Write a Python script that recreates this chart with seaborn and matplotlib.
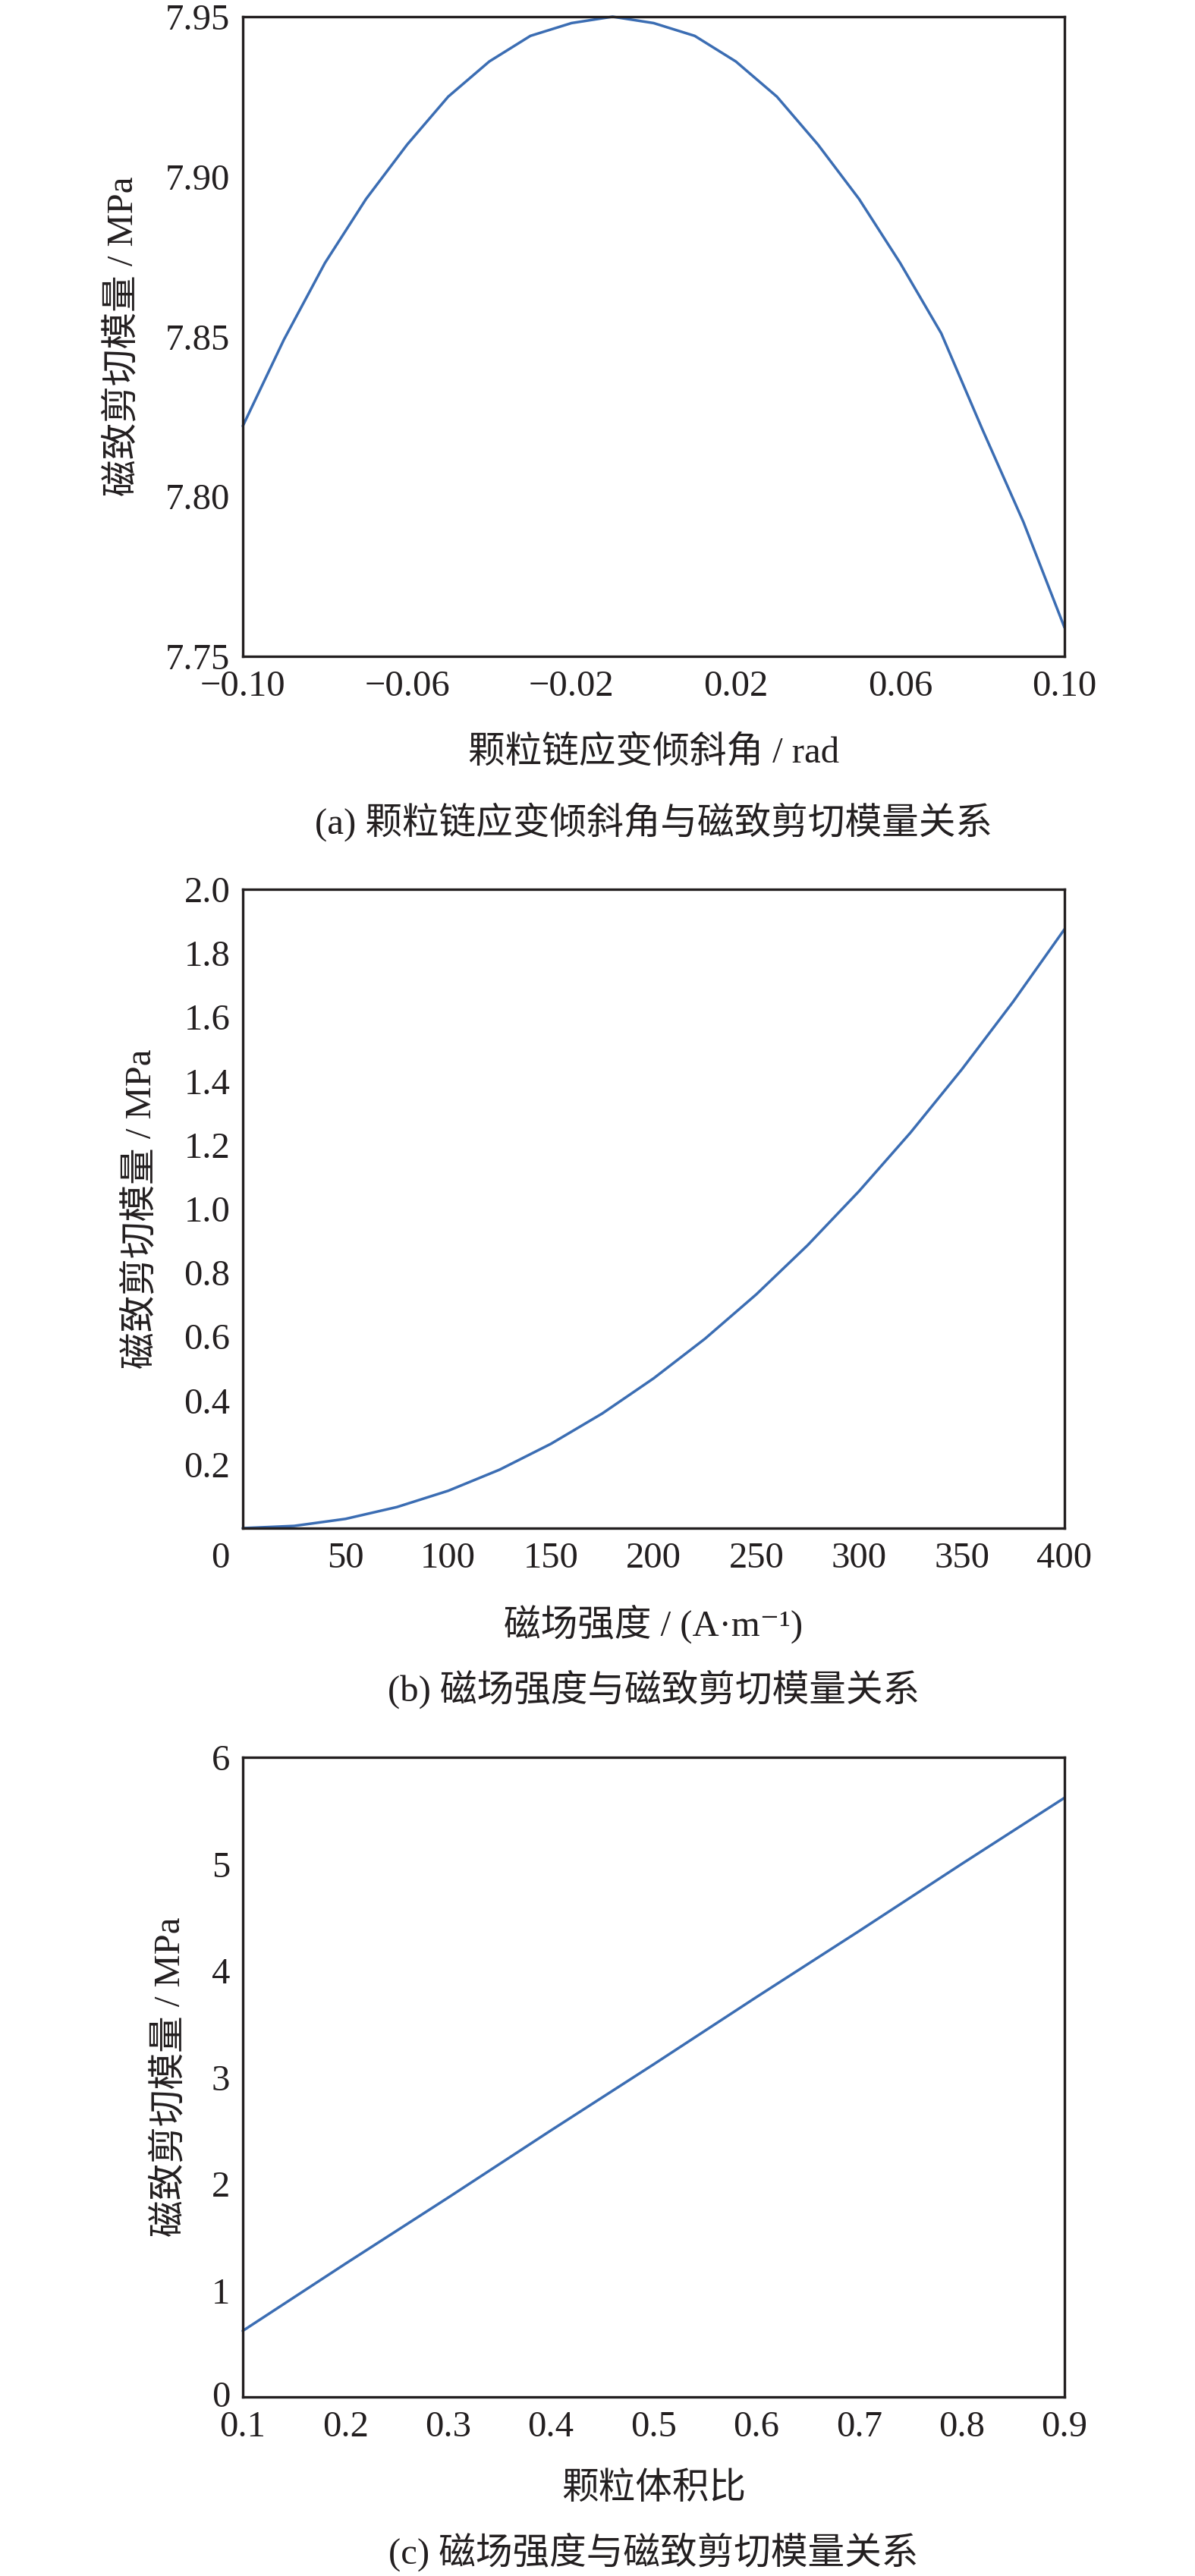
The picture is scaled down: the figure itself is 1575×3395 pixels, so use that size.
import matplotlib
matplotlib.use("Agg")
import matplotlib.pyplot as plt
import matplotlib.transforms as mtransforms
import seaborn as sns
import pandas as pd

# ---------------- data ----------------
# (a) particle-chain strain tilt angle vs magnetostrictive shear modulus
angle_rad = [-0.10, -0.09, -0.08, -0.07, -0.06, -0.05, -0.04, -0.03, -0.02, -0.01,
             0.00, 0.01, 0.02, 0.03, 0.04, 0.05, 0.06, 0.07, 0.08, 0.09, 0.10]
shear_a = [7.822, 7.849, 7.873, 7.893, 7.910, 7.925, 7.936, 7.944, 7.948, 7.950,
           7.948, 7.944, 7.936, 7.925, 7.910, 7.893, 7.873, 7.851, 7.821, 7.792, 7.759]

# (b) magnetic field strength vs magnetostrictive shear modulus
field_H = [0, 25, 50, 75, 100, 125, 150, 175, 200, 225, 250, 275, 300, 325, 350, 375, 400]
shear_b = [0.0, 0.007, 0.029, 0.066, 0.117, 0.183, 0.264, 0.359, 0.469, 0.593,
           0.732, 0.886, 1.055, 1.238, 1.436, 1.648, 1.875]

# (c) particle volume fraction vs magnetostrictive shear modulus
vol_frac = [0.1, 0.2, 0.3, 0.4, 0.5, 0.6, 0.7, 0.8, 0.9]
shear_c = [0.62, 1.25, 1.87, 2.50, 3.12, 3.75, 4.37, 5.00, 5.62]

a_xticks = [-0.10, -0.06, -0.02, 0.02, 0.06, 0.10]
a_xticklabels = ["\u22120.10", "\u22120.06", "\u22120.02", "0.02", "0.06", "0.10"]
a_yticks = [7.75, 7.80, 7.85, 7.90, 7.95]
a_yticklabels = ["7.75", "7.80", "7.85", "7.90", "7.95"]

b_xticks = [0, 50, 100, 150, 200, 250, 300, 350, 400]
b_xticklabels = ["0", "50", "100", "150", "200", "250", "300", "350", "400"]
b_yticks = [0.2, 0.4, 0.6, 0.8, 1.0, 1.2, 1.4, 1.6, 1.8, 2.0]
b_yticklabels = ["0.2", "0.4", "0.6", "0.8", "1.0", "1.2", "1.4", "1.6", "1.8", "2.0"]

c_xticks = [0.1, 0.2, 0.3, 0.4, 0.5, 0.6, 0.7, 0.8, 0.9]
c_xticklabels = ["0.1", "0.2", "0.3", "0.4", "0.5", "0.6", "0.7", "0.8", "0.9"]
c_yticks = [0, 1, 2, 3, 4, 5, 6]
c_yticklabels = ["0", "1", "2", "3", "4", "5", "6"]

ylabel_text = "磁致剪切模量 / MPa"
xlabel_a = "颗粒链应变倾斜角 / rad"
xlabel_b = "磁场强度 / (A·m\u207b\u00b9)"
xlabel_c = "颗粒体积比"
caption_a = "(a) 颗粒链应变倾斜角与磁致剪切模量关系"
caption_b = "(b) 磁场强度与磁致剪切模量关系"
caption_c = "(c) 磁场强度与磁致剪切模量关系"

# ---------------- style ----------------
sns.set_theme(style="white")
plt.rcParams["font.family"] = ["Liberation Serif", "Noto Sans CJK SC", "DejaVu Serif", "DejaVu Sans"]
plt.rcParams["axes.unicode_minus"] = True

FS = 35
LINE_COLOR = "#3b6db3"
SPINE_COLOR = "#231f20"
TEXT_COLOR = "#231f20"
W, H = 1575, 3395
DPI = 100

fig = plt.figure(figsize=(W / DPI, H / DPI), dpi=DPI)
fig.patch.set_facecolor("white")

left = 320 / W
width = (1403 - 320) / W


def make_axes(top_px, bottom_px):
    return fig.add_axes([left, 1 - bottom_px / H, width, (bottom_px - top_px) / H])


ax_a = make_axes(22, 865)
ax_b = make_axes(1172, 2014)
ax_c = make_axes(2316, 3159)

df_a = pd.DataFrame({"x": angle_rad, "y": shear_a})
df_b = pd.DataFrame({"x": field_H, "y": shear_b})
df_c = pd.DataFrame({"x": vol_frac, "y": shear_c})

panels = [
    (ax_a, df_a, (-0.10, 0.10), (7.75, 7.95), a_xticks, a_xticklabels, a_yticks, a_yticklabels,
     xlabel_a, 992, 162, caption_a, 1083),
    (ax_b, df_b, (0, 400), (0, 2.0), b_xticks, b_xticklabels, b_yticks, b_yticklabels,
     xlabel_b, 2140, 186, caption_b, 2226),
    (ax_c, df_c, (0.1, 0.9), (0, 6), c_xticks, c_xticklabels, c_yticks, c_yticklabels,
     xlabel_c, 3280, 224, caption_c, 3363),
]

for (ax, df, xl, yl, xt, xtl, yt, ytl, xlab, xlab_y, ylab_x, cap, cap_y) in panels:
    sns.lineplot(data=df, x="x", y="y", ax=ax, color=LINE_COLOR, linewidth=2.5,
                 clip_on=False, zorder=3)
    ax.set_xlim(*xl)
    ax.set_ylim(*yl)
    ax.set_xticks(xt)
    ax.set_xticklabels(xtl)
    ax.set_yticks(yt)
    ax.set_yticklabels(ytl)
    for sp in ax.spines.values():
        sp.set_visible(True)
        sp.set_color(SPINE_COLOR)
        sp.set_linewidth(2.4)
        sp.set_zorder(4)
    ax.tick_params(axis="both", which="major", direction="in", length=9, width=2.2,
                   color=SPINE_COLOR, labelsize=FS, labelcolor=TEXT_COLOR,
                   top=False, right=False)
    ax.tick_params(axis="x", pad=13)
    ax.tick_params(axis="y", pad=12)
    ax.grid(False)
    ax.set_facecolor("white")

    bbox = ax.get_position()
    ax_bottom_px = (1 - bbox.y0) * H
    ax_height_px = bbox.height * H
    ax_left_px = bbox.x0 * W
    ax_width_px = bbox.width * W

    ax.set_xlabel(xlab, fontsize=FS, color=TEXT_COLOR)
    ax.xaxis.set_label_coords(0.5, (ax_bottom_px - xlab_y) / ax_height_px)
    ax.xaxis.label.set_va("center")

    ax.set_ylabel(ylabel_text, fontsize=FS, color=TEXT_COLOR)
    ax.yaxis.set_label_coords((ylab_x - ax_left_px) / ax_width_px, 0.5)
    ax.yaxis.label.set_va("center")

    fig.text((ax_left_px + ax_width_px / 2) / W, 1 - cap_y / H, cap, fontsize=FS,
             ha="center", va="center", color=TEXT_COLOR)

# shift the origin "0" label of panel (b) to the lower-left corner
lbl0 = ax_b.get_xticklabels()[0]
lbl0.set_transform(lbl0.get_transform() +
                   mtransforms.ScaledTranslation(-30 / DPI, 0, fig.dpi_scale_trans))

# nudge the "0" y label of panel (c) slightly up so it clears the "0.1" x label
lbl_c0 = ax_c.get_yticklabels()[0]
lbl_c0.set_transform(lbl_c0.get_transform() +
                     mtransforms.ScaledTranslation(0, 4 / DPI, fig.dpi_scale_trans))

fig.savefig("out.png", dpi=DPI, facecolor="white")
